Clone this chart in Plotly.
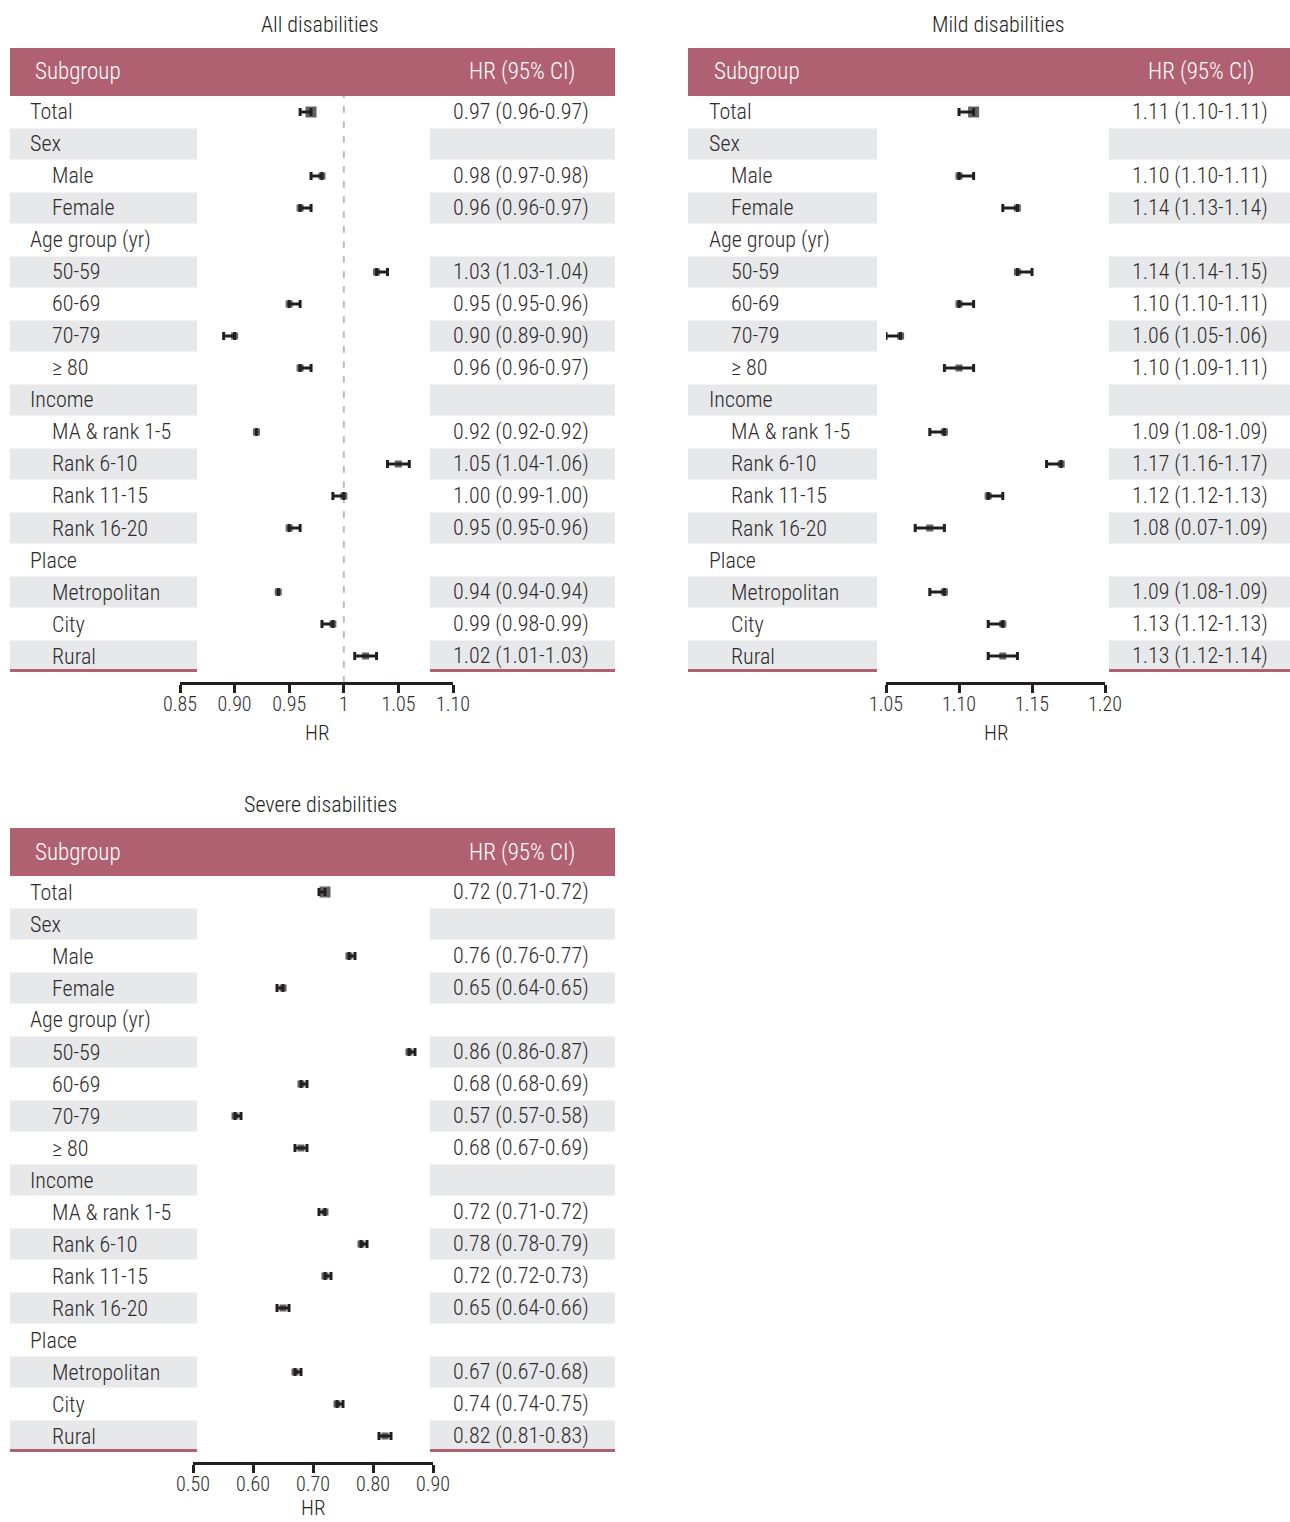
import plotly.graph_objects as go

W, H = 1290, 1522

# ---- subgroup rows (top to bottom) ----
subgroups = ["Total", "Sex", "Male", "Female", "Age group (yr)", "50-59", "60-69",
             "70-79", "≥ 80", "Income", "MA & rank 1-5", "Rank 6-10", "Rank 11-15",
             "Rank 16-20", "Place", "Metropolitan", "City", "Rural"]
is_heading = [True, True, False, False, True, False, False, False, False,
              True, False, False, False, False, True, False, False, False]

# ---- All disabilities ----
all_hr = [0.97, None, 0.98, 0.96, None, 1.03, 0.95, 0.90, 0.96, None, 0.92, 1.05, 1.00, 0.95, None, 0.94, 0.99, 1.02]
all_lo = [0.96, None, 0.97, 0.96, None, 1.03, 0.95, 0.89, 0.96, None, 0.92, 1.04, 0.99, 0.95, None, 0.94, 0.98, 1.01]
all_hi = [0.97, None, 0.98, 0.97, None, 1.04, 0.96, 0.90, 0.97, None, 0.92, 1.06, 1.00, 0.96, None, 0.94, 0.99, 1.03]
all_text = ["0.97 (0.96-0.97)", "", "0.98 (0.97-0.98)", "0.96 (0.96-0.97)", "", "1.03 (1.03-1.04)",
            "0.95 (0.95-0.96)", "0.90 (0.89-0.90)", "0.96 (0.96-0.97)", "", "0.92 (0.92-0.92)",
            "1.05 (1.04-1.06)", "1.00 (0.99-1.00)", "0.95 (0.95-0.96)", "", "0.94 (0.94-0.94)",
            "0.99 (0.98-0.99)", "1.02 (1.01-1.03)"]
all_ticks = [0.85, 0.90, 0.95, 1.00, 1.05, 1.10]
all_ticktext = ["0.85", "0.90", "0.95", "1", "1.05", "1.10"]

# ---- Mild disabilities ----
mild_hr = [1.11, None, 1.10, 1.14, None, 1.14, 1.10, 1.06, 1.10, None, 1.09, 1.17, 1.12, 1.08, None, 1.09, 1.13, 1.13]
mild_lo = [1.10, None, 1.10, 1.13, None, 1.14, 1.10, 1.05, 1.09, None, 1.08, 1.16, 1.12, 1.07, None, 1.08, 1.12, 1.12]
mild_hi = [1.11, None, 1.11, 1.14, None, 1.15, 1.11, 1.06, 1.11, None, 1.09, 1.17, 1.13, 1.09, None, 1.09, 1.13, 1.14]
mild_text = ["1.11 (1.10-1.11)", "", "1.10 (1.10-1.11)", "1.14 (1.13-1.14)", "", "1.14 (1.14-1.15)",
             "1.10 (1.10-1.11)", "1.06 (1.05-1.06)", "1.10 (1.09-1.11)", "", "1.09 (1.08-1.09)",
             "1.17 (1.16-1.17)", "1.12 (1.12-1.13)", "1.08 (0.07-1.09)", "", "1.09 (1.08-1.09)",
             "1.13 (1.12-1.13)", "1.13 (1.12-1.14)"]
mild_ticks = [1.05, 1.10, 1.15, 1.20]
mild_ticktext = ["1.05", "1.10", "1.15", "1.20"]

# ---- Severe disabilities ----
sev_hr = [0.72, None, 0.76, 0.65, None, 0.86, 0.68, 0.57, 0.68, None, 0.72, 0.78, 0.72, 0.65, None, 0.67, 0.74, 0.82]
sev_lo = [0.71, None, 0.76, 0.64, None, 0.86, 0.68, 0.57, 0.67, None, 0.71, 0.78, 0.72, 0.64, None, 0.67, 0.74, 0.81]
sev_hi = [0.72, None, 0.77, 0.65, None, 0.87, 0.69, 0.58, 0.69, None, 0.72, 0.79, 0.73, 0.66, None, 0.68, 0.75, 0.83]
sev_text = ["0.72 (0.71-0.72)", "", "0.76 (0.76-0.77)", "0.65 (0.64-0.65)", "", "0.86 (0.86-0.87)",
            "0.68 (0.68-0.69)", "0.57 (0.57-0.58)", "0.68 (0.67-0.69)", "", "0.72 (0.71-0.72)",
            "0.78 (0.78-0.79)", "0.72 (0.72-0.73)", "0.65 (0.64-0.66)", "", "0.67 (0.67-0.68)",
            "0.74 (0.74-0.75)", "0.82 (0.81-0.83)"]
sev_ticks = [0.50, 0.60, 0.70, 0.80, 0.90]
sev_ticktext = ["0.50", "0.60", "0.70", "0.80", "0.90"]

FONT = "Roboto Condensed, Liberation Sans Narrow, DejaVu Sans Condensed, Roboto, sans-serif"
INK = "#231F20"
TXT = "#2E2B2C"
HEAD = "#B06171"
STRIPE = "#E7E8EA"
ROW_H = 32


def py(p):
    return 1 - p / H


def px(p):
    return p / W


def font(size, color=TXT, weight=300):
    return dict(size=size, color=color, family=FONT, weight=weight)


panels = [
    dict(title="All disabilities", hr=all_hr, lo=all_lo, hi=all_hi, text=all_text,
         ticks=all_ticks, ticktext=all_ticktext, rng=[0.85, 1.10], ax="", ref=1.0,
         left=10, right=615, lcol=197, rcol=430, top=48, plot=(180, 453),
         sub_x=33, hdr_r=577, val_r=591, lab_x=28, ind_x=50, title_x=320),
    dict(title="Mild disabilities", hr=mild_hr, lo=mild_lo, hi=mild_hi, text=mild_text,
         ticks=mild_ticks, ticktext=mild_ticktext, rng=[1.05, 1.20], ax="2", ref=None,
         left=688, right=1290, lcol=877, rcol=1109, top=48, plot=(886, 1105),
         sub_x=712, hdr_r=1256, val_r=1270, lab_x=707, ind_x=729, title_x=999),
    dict(title="Severe disabilities", hr=sev_hr, lo=sev_lo, hi=sev_hi, text=sev_text,
         ticks=sev_ticks, ticktext=sev_ticktext, rng=[0.50, 0.90], ax="3", ref=None,
         left=10, right=615, lcol=197, rcol=430, top=828, plot=(193, 433),
         sub_x=33, hdr_r=577, val_r=591, lab_x=28, ind_x=50, title_x=320),
]

fig = go.Figure()
shapes, annotations = [], []
layout_axes = {}
n = len(subgroups)

for p in panels:
    ax = p["ax"]
    xname, yname = "x" + ax, "y" + ax
    rows_top = p["top"] + 48
    rows_bot = rows_top + n * ROW_H
    axis_y = rows_bot + 11

    # header band
    shapes.append(dict(type="rect", xref="paper", yref="paper", x0=px(p["left"]), x1=px(p["right"]),
                       y0=py(p["top"] + 48), y1=py(p["top"]), fillcolor=HEAD, line_width=0, layer="below"))
    annotations.append(dict(text="Subgroup", xref="paper", yref="paper", x=px(p["sub_x"]),
                            y=py(p["top"] + 24), xanchor="left", yanchor="middle", showarrow=False,
                            font=font(23, "white")))
    annotations.append(dict(text="HR (95% CI)", xref="paper", yref="paper", x=px(p["hdr_r"]),
                            y=py(p["top"] + 24), xanchor="right", yanchor="middle", showarrow=False,
                            font=font(23, "white")))
    # panel title
    annotations.append(dict(text=p["title"], xref="paper", yref="paper", x=px(p["title_x"]),
                            y=py(p["top"] - 24), xanchor="center", yanchor="middle", showarrow=False,
                            font=font(22, INK)))
    # axis title (kept inside the page at the bottom edge)
    title_y = axis_y + 50
    if title_y + 13 > H:
        hr_title = dict(y=0, yanchor="bottom")
    else:
        hr_title = dict(y=py(title_y), yanchor="middle")
    annotations.append(dict(text="HR", xref="paper", yref="paper",
                            x=px((p["plot"][0] + p["plot"][1]) / 2), xanchor="center",
                            showarrow=False, font=font(21, INK), **hr_title))

    # striped rows and row texts
    for i, name in enumerate(subgroups):
        if i % 2 == 1:
            for x0, x1 in ((p["left"], p["lcol"]), (p["rcol"], p["right"])):
                shapes.append(dict(type="rect", xref="paper", yref=yname, x0=px(x0), x1=px(x1),
                                   y0=i - 0.485, y1=i + 0.485, fillcolor=STRIPE, line_width=0,
                                   layer="below"))
        annotations.append(dict(text=name, xref="paper", yref=yname,
                                x=px(p["lab_x"] if is_heading[i] else p["ind_x"]), y=i,
                                xanchor="left", yanchor="middle", showarrow=False, font=font(22)))
        if p["text"][i]:
            annotations.append(dict(text=p["text"][i], xref="paper", yref=yname, x=px(p["val_r"]), y=i,
                                    xanchor="right", yanchor="middle", showarrow=False, font=font(22)))

    # closing rule under the table columns
    for x0, x1 in ((p["left"], p["lcol"]), (p["rcol"], p["right"])):
        shapes.append(dict(type="rect", xref="paper", yref=yname, x0=px(x0), x1=px(x1),
                           y0=n - 0.5 - 0.09, y1=n - 0.5, fillcolor=HEAD, line_width=0, layer="above"))

    # reference line at HR = 1
    if p["ref"] is not None:
        shapes.append(dict(type="line", xref=xname, yref="paper", x0=p["ref"], x1=p["ref"],
                           y0=py(axis_y), y1=py(rows_top), line=dict(color="#BFBFBF", width=2, dash="7px,8px"),
                           layer="below"))

    # hazard ratios with confidence intervals
    idx = [i for i in range(n) if p["hr"][i] is not None]
    xs = [p["hr"][i] for i in idx]
    plus = [p["hi"][i] - p["hr"][i] for i in idx]
    minus = [p["hr"][i] - p["lo"][i] for i in idx]
    sizes = [11 if subgroups[i] == "Total" else 7 for i in idx]
    fig.add_trace(go.Scatter(
        x=xs, y=idx, mode="markers", xaxis=xname, yaxis=yname, cliponaxis=False,
        marker=dict(symbol="square", size=sizes, color=INK, line_width=0),
        error_x=dict(type="data", symmetric=False, array=plus, arrayminus=minus,
                     thickness=3, width=4, color=INK),
        showlegend=False, hoverinfo="skip"))

    xkey = "xaxis" + ax
    ykey = "yaxis" + ax
    layout_axes[xkey] = dict(
        domain=[px(p["plot"][0]), px(p["plot"][1])], range=p["rng"], anchor="free",
        position=py(axis_y), showline=True, linewidth=3, linecolor=INK, ticks="outside",
        ticklen=8, tickwidth=3, tickcolor=INK, tickvals=p["ticks"], ticktext=p["ticktext"],
        ticklabelstandoff=-6, tickfont=font(20), showgrid=False, zeroline=False,
        fixedrange=True, automargin=False)
    layout_axes[ykey] = dict(
        domain=[py(rows_bot), py(rows_top)], range=[n - 0.5, -0.5], visible=False,
        anchor=xname, fixedrange=True, showgrid=False, zeroline=False, automargin=False)

fig.update_layout(
    width=W, height=H, margin=dict(l=0, r=0, t=0, b=0, autoexpand=False),
    paper_bgcolor="white", plot_bgcolor="rgba(0,0,0,0)",
    font=dict(family=FONT, color=TXT),
    shapes=shapes, annotations=annotations, showlegend=False,
    **layout_axes)

fig.write_html("out.html")
